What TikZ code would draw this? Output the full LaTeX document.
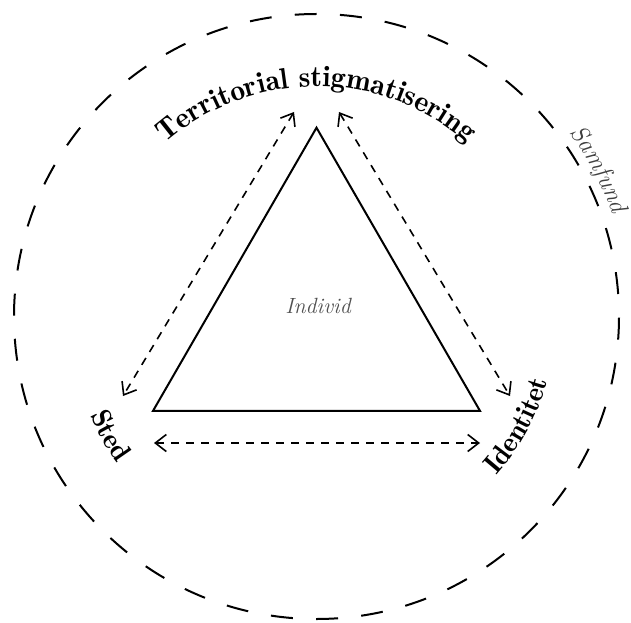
\documentclass[tikz,border=0pt]{standalone}
\usetikzlibrary{arrows.meta,calc,decorations.text}
\definecolor{txtgray}{HTML}{505050}
\definecolor{samgray}{HTML}{404040}
\newcommand\terrfont{\fontsize{29.5}{32}\fontseries{b}\selectfont}
\newcommand\sidefont{\fontsize{28}{32}\fontseries{b}\selectfont}
\newcommand\samfont{\color{samgray}\fontsize{25}{28}\itshape}
\tikzset{
  outercirc/.style={line width=2pt, dash pattern=on 22pt off 23.25pt, dash phase=22.75pt},
  tri/.style={line width=2pt},
  dar/.style={line width=1.6pt, dash pattern=on 8pt off 7pt,
    {Straight Barb[length=11pt,width=17pt]}-{Straight Barb[length=11pt,width=17pt]}},
  individ/.style={text=txtgray, font=\fontsize{22}{24}\itshape, inner sep=0pt},
}
\begin{document}
\begin{tikzpicture}[x=1pt,y=1pt]
\useasboundingbox (0,0) rectangle (631,622);
\coordinate (O) at (316.5,305.5);
% society circle
\draw[outercirc] (O) circle[radius=302.5];
% triangle
\coordinate (A) at ($(O)+(90:188.8)$);
\coordinate (B) at ($(O)+(210:188.8)$);
\coordinate (C) at ($(O)+(330:188.8)$);
\draw[tri] (A) -- (B) -- (C) -- cycle;
% arrows
\coordinate (L1) at (294,510);
\coordinate (L2) at (123,226);
\coordinate (R1) at (339,510);
\coordinate (R2) at (510,226);
\coordinate (B1) at (154,179);
\coordinate (B2) at (480,179);
\draw[dar] (L1) -- (L2);
\draw[dar] (R1) -- (R2);
\draw[dar] (B1) -- (B2);
% labels
\node[individ] (ind) at (318,316) {Individ};
\path[decorate, decoration={text along path, text align=center,
  text={|\terrfont|Territorial stigmatisering}}]
  ($(O)+(150:230)$) arc[start angle=150, end angle=30, radius=230];
\path[decorate, decoration={text along path, text align=center,
  text={|\sidefont|Sted}}]
  ($(O)+(190:247)$) arc[start angle=190, end angle=230, radius=247];
\path[decorate, decoration={text along path, text align=center,
  text={|\sidefont|Identitet}}]
  ($(O)+(-50:240)$) arc[start angle=-50, end angle=-7, radius=240];
\path[decorate, decoration={text along path, text align=center,
  text={|\samfont|Samfund}}]
  ($(O)+(50:313)$) arc[start angle=50, end angle=5, radius=313];
\end{tikzpicture}
\end{document}
